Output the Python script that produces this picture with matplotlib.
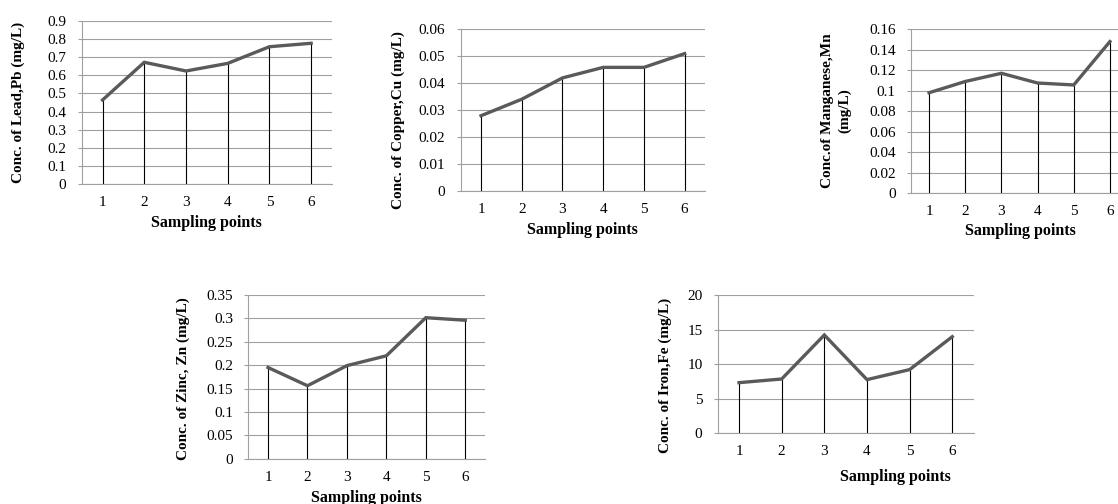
import matplotlib
matplotlib.use("Agg")
import matplotlib.pyplot as plt
from matplotlib.ticker import FuncFormatter

plt.rcParams['font.family'] = ['Liberation Serif', 'DejaVu Serif']

# data
sampling_points = [1, 2, 3, 4, 5, 6]
lead = [0.464, 0.672, 0.624, 0.666, 0.758, 0.777]
copper = [0.028, 0.0341, 0.042, 0.0459, 0.0459, 0.051]
manganese = [0.098, 0.109, 0.117, 0.1075, 0.1056, 0.148]
zinc = [0.195, 0.156, 0.199, 0.220, 0.3015, 0.296]
iron = [7.34, 7.87, 14.25, 7.78, 9.23, 14.0]

lead_ticks = [0, 0.1, 0.2, 0.3, 0.4, 0.5, 0.6, 0.7, 0.8, 0.9]
copper_ticks = [0, 0.01, 0.02, 0.03, 0.04, 0.05, 0.06]
manganese_ticks = [0, 0.02, 0.04, 0.06, 0.08, 0.1, 0.12, 0.14, 0.16]
zinc_ticks = [0, 0.05, 0.1, 0.15, 0.2, 0.25, 0.3, 0.35]
iron_ticks = [0, 5, 10, 15, 20]

ylabels = ["Conc. of Lead,Pb (mg/L)",
           "Conc. of Copper,Cu (mg/L)",
           "Conc.of Manganese,Mn\n(mg/L)",
           "Conc. of Zinc, Zn (mg/L)",
           "Conc. of Iron,Fe (mg/L)"]
xlabel = "Sampling points"

W, H = 1118, 504
fig = plt.figure(figsize=(W / 100, H / 100), dpi=100)


def px_axes(left, top, right, bottom):
    return fig.add_axes([left / W, 1 - bottom / H, (right - left) / W, (bottom - top) / H])


panels = [
    # (pixel box), values, ticks, ylabel, xlabel coords, ylabel coords
    ((81.7, 21, 332, 184), lead, lead_ticks, ylabels[0], (0.5, -0.239), (-0.254, 0.5)),
    ((460.7, 29.3, 705, 191.3), copper, copper_ticks, ylabels[1], (0.5, -0.239), (-0.257, 0.44)),
    ((911, 29.3, 1128, 193), manganese, manganese_ticks, ylabels[2], (0.502, -0.232), (-0.343, 0.504)),
    ((248.3, 295, 485, 458.7), zinc, zinc_ticks, ylabels[3], (0.5, -0.240), (-0.276, 0.49)),
    ((717.7, 295.3, 973.6, 433.3), iron, iron_ticks, ylabels[4], (0.693, -0.317), (-0.206, 0.42)),
]

grid_col = '#a0a0a0'
line_col = '#5a5a5a'

for box, vals, ticks, ylab, xl, yl in panels:
    ax = px_axes(*box)
    ax.vlines(sampling_points, 0, vals, color='black', lw=0.8, zorder=2)
    ax.plot(sampling_points, vals, color=line_col, lw=2.4, zorder=3, solid_joinstyle='miter')
    ax.set_xlim(0.5, 6.5)
    ax.set_ylim(ticks[0], ticks[-1])
    ax.set_xticks(sampling_points)
    ax.set_yticks(ticks)
    ax.yaxis.set_major_formatter(FuncFormatter(lambda v, p: f"{v:g}"))
    ax.grid(axis='y', color=grid_col, lw=0.8, zorder=0)
    for s in ['top', 'right']:
        ax.spines[s].set_visible(False)
    for s in ['left', 'bottom']:
        ax.spines[s].set_color(grid_col)
        ax.spines[s].set_linewidth(0.8)
    ax.tick_params(axis='x', length=0, pad=8.5, labelsize=11)
    ax.tick_params(axis='y', length=3, color=grid_col, pad=8, labelsize=11)
    ax.set_xlabel(xlabel, fontweight='bold', fontsize=11.5, va='center')
    ax.xaxis.set_label_coords(*xl)
    ax.set_ylabel(ylab, fontweight='bold', fontsize=11, va='center', linespacing=1.4)
    ax.yaxis.set_label_coords(*yl)

fig.savefig("out.png", dpi=100)
